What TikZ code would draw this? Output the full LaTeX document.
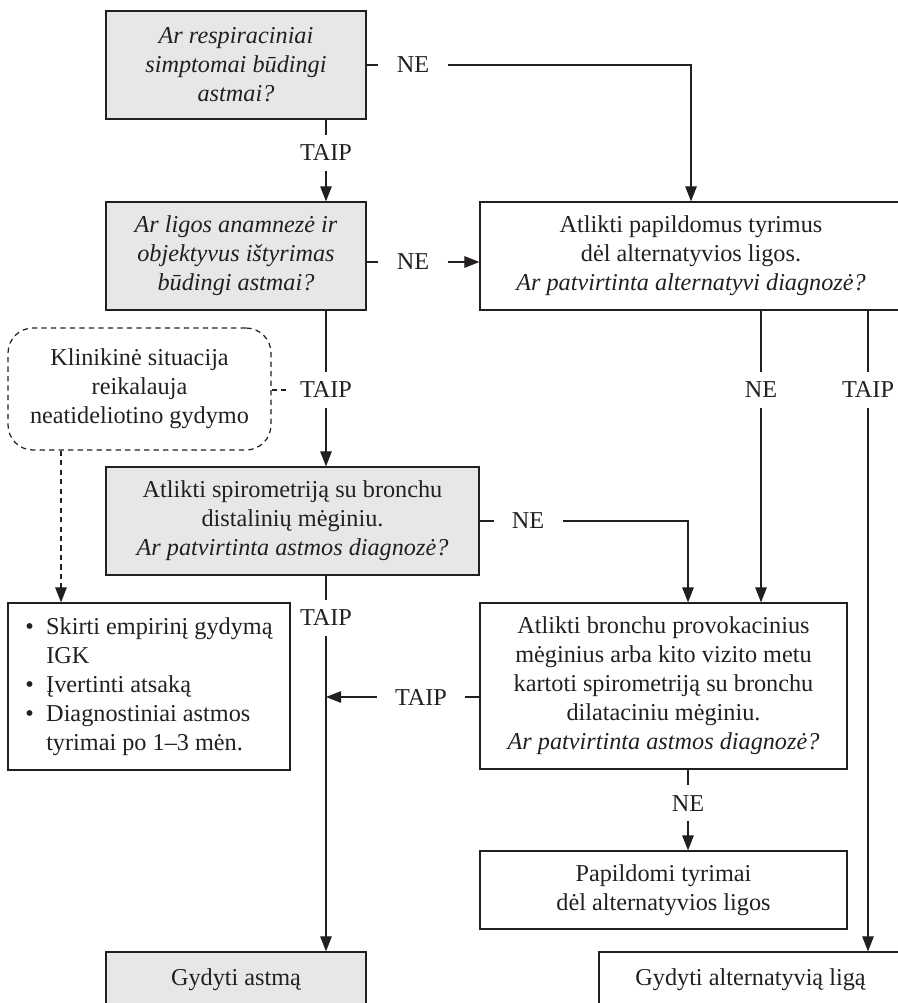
\documentclass[tikz,border=0pt]{standalone}
\usepackage{fontspec}
\setmainfont{Liberation Serif}
\usepackage{tikz}
\usetikzlibrary{arrows.meta}
\definecolor{linec}{RGB}{35,31,32}
\definecolor{boxgray}{RGB}{230,231,232}
\newcommand{\chartfont}{\fontsize{13.8}{16.5}\selectfont}
\tikzstyle{qbox} = [draw=linec, line width=0.7pt, fill=boxgray, text=linec, align=center, inner sep=0pt]
\tikzstyle{abox} = [draw=linec, line width=0.7pt, fill=white, text=linec, align=center, inner sep=0pt]
\tikzstyle{answer} = [inner xsep=0.36cm, inner ysep=0.2cm, text height=9.1pt, text depth=0pt, text=linec]
\tikzstyle{link} = [line width=0.6pt, draw=linec]
\tikzstyle{arrow} = [link, -{Triangle[length=3mm,width=2.3mm]}]
\tikzstyle{dline} = [link, dash pattern=on 3pt off 2.4pt]

\begin{document}
\begin{tikzpicture}[x=0.02cm, y=-0.02cm, font=\chartfont]
\useasboundingbox (0,0) rectangle (898,1003);
\clip (0,0) rectangle (898,1003);

%questions (grey boxes)
\node[qbox, font=\chartfont\itshape, minimum width=5.2cm, minimum height=2.16cm] (b1) at (236,65) {Ar respiraciniai\\simptomai būdingi\\astmai?};
\node[qbox, font=\chartfont\itshape, minimum width=5.2cm, minimum height=2.16cm] (b2) at (236,256) {Ar ligos anamnezė ir\\objektyvus ištyrimas\\būdingi astmai?};
\node[qbox, minimum width=7.46cm, minimum height=2.16cm] (b4) at (292.5,521) {Atlikti spirometriją su bronchu\\distalinių mėginiu.\\\textit{Ar patvirtinta astmos diagnozė?}};
\node[qbox, minimum width=5.2cm, minimum height=1.12cm] (b6) at (236,980) {Gydyti astmą};

%white boxes
\node[abox, minimum width=8.44cm, minimum height=2.16cm] (b3) at (691,256) {Atlikti papildomus tyrimus\\dėl alternatyvios ligos.\\\textit{Ar patvirtinta alternatyvi diagnozė?}};
\node[abox, minimum width=5.64cm, minimum height=3.34cm] (b5) at (149,686.5) {\begin{tabular}{@{}l@{\hspace{7pt}}l@{}}
\textbullet & Skirti empirinį gydymą\\
 & IGK\\
\textbullet & Įvertinti atsaką\\
\textbullet & Diagnostiniai astmos\\
 & tyrimai po 1--3 mėn.
\end{tabular}};
\node[abox, minimum width=7.34cm, minimum height=3.32cm] (b7) at (663.5,686) {Atlikti bronchu provokacinius\\mėginius arba kito vizito metu\\kartoti spirometriją su bronchu\\dilataciniu mėginiu.\\\textit{Ar patvirtinta astmos diagnozė?}};
\node[abox, minimum width=7.34cm, minimum height=1.56cm] (b8) at (663.5,890) {Papildomi tyrimai\\dėl alternatyvios ligos};
\node[abox, minimum width=6.06cm, minimum height=1.12cm] (b9) at (750.5,980) {Gydyti alternatyvią ligą};

%dashed box
\node[draw=linec, line width=0.7pt, dash pattern=on 3pt off 2.4pt, rounded corners=0.5cm, text=linec, align=center, inner sep=0pt, minimum width=5.26cm, minimum height=2.44cm] (klin) at (139.5,389) {Klinikinė situacija\\reikalauja\\neatideliotino gydymo};

%answers
\node[answer] (ne1) at (413,65) {NE};
\node[answer] (taip1) at (326,153) {TAIP};
\node[answer] (ne2) at (413,262) {NE};
\node[answer] (taip2) at (326,390) {TAIP};
\node[answer] (ne3) at (528,521) {NE};
\node[answer] (taip5) at (326,618) {TAIP};
\node[answer] (taip4) at (421,697) {TAIP};
\node[answer] (ne4) at (761,390) {NE};
\node[answer] (taip3) at (868,390) {TAIP};
\node[answer] (ne5) at (688,803) {NE};
\coordinate (col) at (688,0);
\coordinate (dcol) at (61,0);

%connectors
\draw[arrow] (b1.south -| taip1) -- (taip1) -- (b2.north -| taip1);
\draw[arrow] (b1.east) -- (ne1) -| (b3.north);
\draw[arrow] (ne2 -| b2.east) -- (ne2) -- (ne2 -| b3.west);
\draw[arrow] (b2.south -| taip2) -- (taip2) -- (b4.north -| taip2);
\draw[dline, shorten >=-0.14cm] (klin.east |- taip2) -- (taip2);
\draw[dline, arrow] (klin.south -| dcol) -- (b5.north -| dcol);
\draw[arrow] (b4.south -| taip5) -- (taip5) -- (b6.north -| taip5);
\draw[arrow] (b4.east) -- (ne3) -| (b7.north -| col);
\draw[arrow] (b3.south -| ne4) -- (ne4) -- (b7.north -| ne4);
\draw[arrow] (b3.south -| taip3) -- (taip3) -- (b9.north -| taip3);
\draw[arrow] (taip4 -| b7.west) -- (taip4) -- (taip4 -| taip5);
\draw[arrow] (b7.south -| col) -- (ne5) -- (b8.north -| col);

\end{tikzpicture}
\end{document}
